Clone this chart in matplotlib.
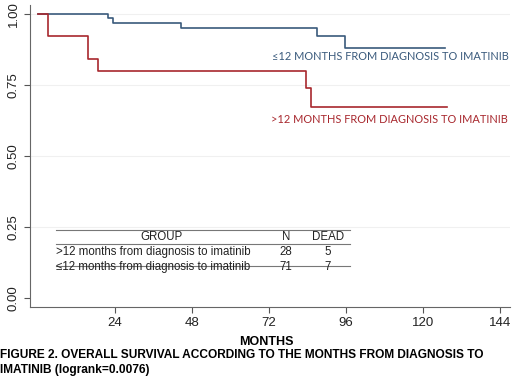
import matplotlib.pyplot as plt

plt.rcParams['font.family'] = ['Liberation Sans', 'DejaVu Sans']

# Kaplan-Meier steps
red_t = [0, 3.1, 15.6, 18.7, 83.4, 85.0, 127.6]
red_s = [1.0, 0.924, 0.84, 0.80, 0.74, 0.674, 0.674]
blue_t = [0, 21.8, 23.3, 44.5, 87.0, 95.8, 127.0]
blue_s = [1.0, 0.985, 0.969, 0.952, 0.923, 0.881, 0.881]

xticks = [24, 48, 72, 96, 120, 144]
yticks = [0.0, 0.25, 0.5, 0.75, 1.0]

groups = [">12 months from diagnosis to imatinib", "\u226412 months from diagnosis to imatinib"]
n_pat = [28, 71]
n_dead = [5, 7]

blue = '#3a5a7c'
red = '#a8282e'

fig = plt.figure(figsize=(5.2, 3.8), dpi=100)
ax = fig.add_axes([0.058, 0.192, 0.922, 0.795])

for y in yticks[1:]:
    ax.axhline(y, color='#f0f0f0', lw=0.8, zorder=0)

ax.step(blue_t, blue_s, where='post', color=blue, lw=1.2)
ax.step(red_t, red_s, where='post', color=red, lw=1.2)

ax.set_xlim(-2.5, 147)
ax.set_ylim(-0.032, 1.032)
ax.set_xticks(xticks)
ax.set_yticks(yticks)
ax.set_yticklabels([f'{v:.2f}' for v in yticks], rotation=90, va='center')
ax.tick_params(labelsize=9.5, color='#555555', length=4, labelcolor='#222222')
for s in ['top', 'right']:
    ax.spines[s].set_visible(False)
for s in ['left', 'bottom']:
    ax.spines[s].set_color('#666666')

lab_font = ['Lato', 'DejaVu Sans']
ax.text(72.8, 0.85, "\u226412 MONTHS FROM DIAGNOSIS TO IMATINIB", color=blue,
        fontsize=7.9, family=lab_font, va='center')
ax.text(72.5, 0.63, ">12 MONTHS FROM DIAGNOSIS TO IMATINIB", color=red,
        fontsize=7.9, family=lab_font, va='center')

# at-risk table
x0, x1 = 5.6, 97.2
ax.plot([x0, x1], [0.238, 0.238], color='#777777', lw=0.8)
ax.plot([x0, x1], [0.190, 0.190], color='#777777', lw=0.8)
ax.plot([x0, x1], [0.113, 0.113], color='#777777', lw=0.8)
ax.text(38.5, 0.213, "GROUP", fontsize=8.3, ha='center', va='center', color='#222222')
ax.text(77.3, 0.213, "N", fontsize=8.3, ha='center', va='center', color='#222222')
ax.text(90.3, 0.213, "DEAD", fontsize=8.3, ha='center', va='center', color='#222222')
for i, g in enumerate(groups):
    yy = 0.161 - i * 0.053
    ax.text(x0, yy, g, fontsize=8.3, ha='left', va='center', color='#222222')
    ax.text(77.3, yy, str(n_pat[i]), fontsize=8.3, ha='center', va='center', color='#222222')
    ax.text(90.3, yy, str(n_dead[i]), fontsize=8.3, ha='center', va='center', color='#222222')

fig.text(0.512, 1 - 342 / 380, "MONTHS", fontsize=9, fontweight='bold', ha='center', va='center')
fig.text(0.0, 1 - 355 / 380, "FIGURE 2. OVERALL SURVIVAL ACCORDING TO THE MONTHS FROM DIAGNOSIS TO",
         fontsize=8.6, fontweight='bold', ha='left', va='center')
fig.text(0.0, 1 - 370 / 380, "IMATINIB (logrank=0.0076)",
         fontsize=8.6, fontweight='bold', ha='left', va='center')

fig.savefig('out.png', dpi=100)
